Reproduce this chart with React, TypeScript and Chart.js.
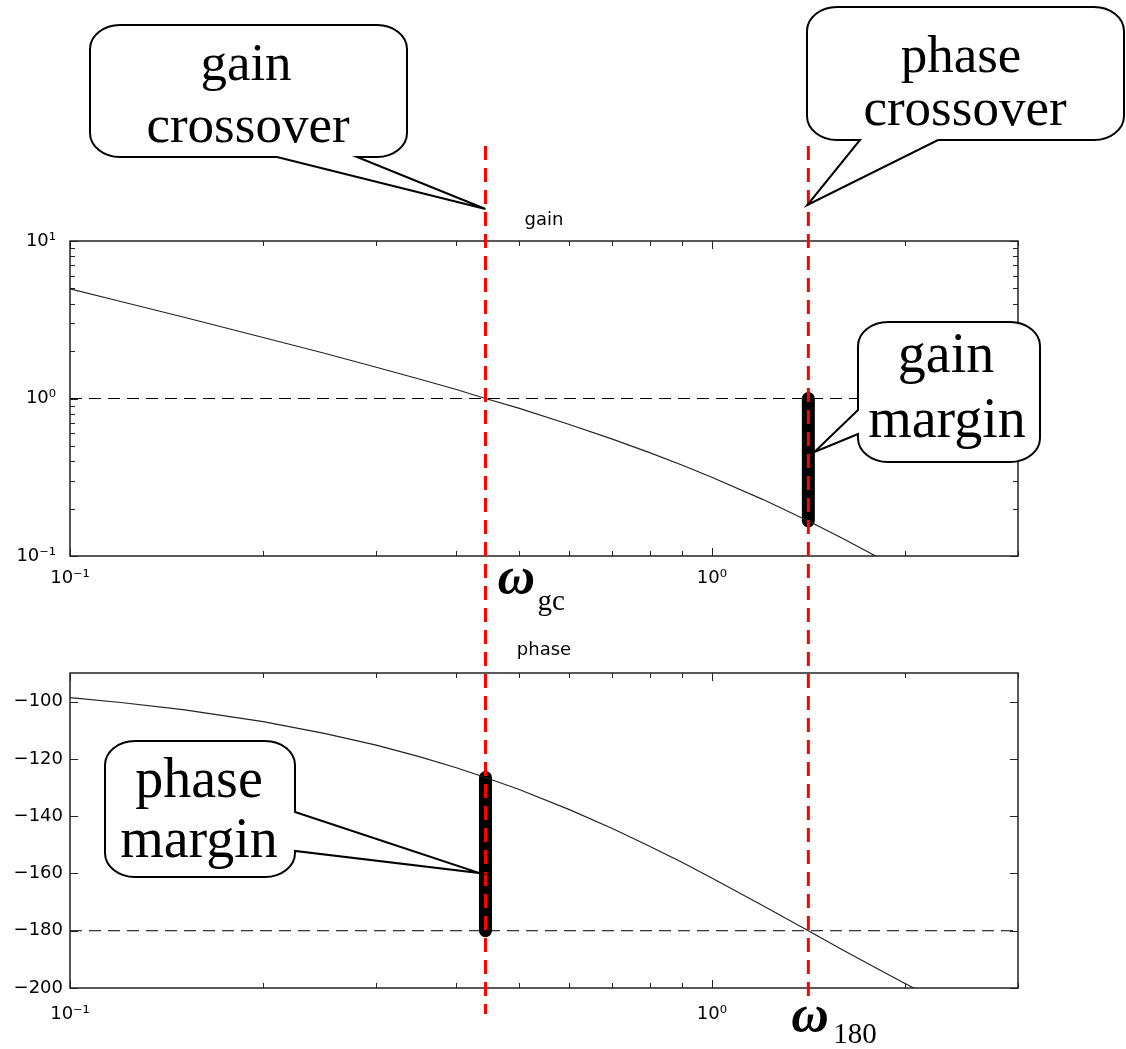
import React, { useEffect, useRef } from 'react';
import { Chart, registerables } from 'chart.js';

Chart.register(...registerables);

// ---------------- data ----------------
const freq = [0.1, 0.12, 0.15, 0.2, 0.25, 0.3, 0.35, 0.4, 0.444, 0.5, 0.6, 0.7, 0.8, 0.9, 1.0, 1.2, 1.414, 1.6, 1.8, 2.0, 2.2, 2.5, 3.0];
const gainMag = [4.97, 4.13, 3.29, 2.44, 1.93, 1.58, 1.33, 1.14, 1.0, 0.868, 0.684, 0.552, 0.453, 0.377, 0.316, 0.229, 0.167, 0.129, 0.1, 0.079, 0.063, 0.046, 0.029];
const phaseDeg = [-98.6, -100.3, -102.8, -107.0, -111.2, -115.2, -119.2, -123.1, -126.5, -130.6, -137.7, -144.3, -150.5, -156.2, -161.6, -171.2, -180.0, -186.7, -192.9, -198.4, -203.3, -209.5, -217.9];

const wGc = 0.444; // gain crossover frequency
const w180 = 1.414; // phase crossover frequency
const gainMarginFreq = [1.414, 1.414];
const gainMarginMag = [1.0, 0.167];
const phaseMarginFreq = [0.444, 0.444];
const phaseMarginDeg = [-126.5, -180];
const unityGainLine = [1, 1];
const phase180Line = [-180, -180];
const refLineFreq = [0.1, 3];

const xRange = [0.1, 3];
const gainRange = [0.1, 10];
const phaseRange = [-200, -90];

const xTickValues = [0.1, 1];
const xTickLabels = ['10\u207B\u00B9', '10\u2070'];
const xMinorTicks = [0.2, 0.3, 0.4, 0.5, 0.6, 0.7, 0.8, 0.9, 2, 3];
const gainTickValues = [0.1, 1, 10];
const gainTickLabels = ['10\u207B\u00B9', '10\u2070', '10\u00B9'];
const gainMinorTicks = [0.2, 0.3, 0.4, 0.5, 0.6, 0.7, 0.8, 0.9, 2, 3, 4, 5, 6, 7, 8, 9];
const phaseTickValues = [-200, -180, -160, -140, -120, -100];
const phaseTickLabels = ['\u2212200', '\u2212180', '\u2212160', '\u2212140', '\u2212120', '\u2212100'];

// ---------------- layout ----------------
const W = 1126;
const TOP_H = 630;
const BOT_H = 1049 - TOP_H;
const TICK_FONT = { family: 'DejaVu Sans', size: 18 };
const SERIF = '"Liberation Serif", "Times New Roman", serif';

const pts = (xs: number[], ys: number[]) => xs.map((x, i) => ({ x, y: ys[i] }));

function drawFrame(chart: any, xMajor: number[], xMinor: number[], yMajor: number[], yMinor: number[]) {
  const { ctx, chartArea } = chart;
  const { left, right, top, bottom } = chartArea;
  const xs = chart.scales.x;
  const ys = chart.scales.y;
  ctx.save();
  ctx.strokeStyle = '#222';
  ctx.lineWidth = 1;
  ctx.setLineDash([]);
  ctx.beginPath();
  const xt = (vals: number[], len: number) => {
    vals.forEach((v) => {
      const p = Math.round(xs.getPixelForValue(v)) + 0.5;
      ctx.moveTo(p, bottom);
      ctx.lineTo(p, bottom - len);
      ctx.moveTo(p, top);
      ctx.lineTo(p, top + len);
    });
  };
  const yt = (vals: number[], len: number) => {
    vals.forEach((v) => {
      const p = Math.round(ys.getPixelForValue(v)) + 0.5;
      ctx.moveTo(left, p);
      ctx.lineTo(left + len, p);
      ctx.moveTo(right, p);
      ctx.lineTo(right - len, p);
    });
  };
  xt(xMajor, 8);
  xt(xMinor, 5);
  yt(yMajor, 8);
  yt(yMinor, 5);
  ctx.stroke();
  ctx.lineWidth = 1.5;
  ctx.strokeRect(left, top, right - left, bottom - top);
  ctx.restore();
}

function drawRedLine(ctx: any, px: number, y0: number, y1: number, offset: number) {
  ctx.save();
  ctx.strokeStyle = '#ff0000';
  ctx.lineWidth = 3;
  ctx.setLineDash([14, 8]);
  ctx.lineDashOffset = offset;
  ctx.beginPath();
  ctx.moveTo(px, y0);
  ctx.lineTo(px, y1);
  ctx.stroke();
  ctx.restore();
}

type Balloon = {
  x0: number; y0: number; x1: number; y1: number;
  side: 'bottom' | 'left' | 'right';
  a: number; b: number; tip: [number, number];
  size: number;
  lines: { t: string; x: number; y: number }[];
};

function drawBalloon(ctx: any, bl: Balloon, dy: number) {
  const rx = 30, ry = 24, k = 0.55;
  const x0 = bl.x0, x1 = bl.x1, y0 = bl.y0 - dy, y1 = bl.y1 - dy;
  const a = bl.side === 'bottom' ? bl.a : bl.a - dy;
  const b = bl.side === 'bottom' ? bl.b : bl.b - dy;
  const tx = bl.tip[0], ty = bl.tip[1] - dy;
  ctx.save();
  ctx.setLineDash([]);
  ctx.beginPath();
  ctx.moveTo(x0 + rx, y0);
  ctx.lineTo(x1 - rx, y0);
  ctx.bezierCurveTo(x1 - rx + rx * k, y0, x1, y0 + ry - ry * k, x1, y0 + ry);
  if (bl.side === 'right') {
    ctx.lineTo(x1, a);
    ctx.lineTo(tx, ty);
    ctx.lineTo(x1, b);
  }
  ctx.lineTo(x1, y1 - ry);
  ctx.bezierCurveTo(x1, y1 - ry + ry * k, x1 - rx + rx * k, y1, x1 - rx, y1);
  if (bl.side === 'bottom') {
    ctx.lineTo(b, y1);
    ctx.lineTo(tx, ty);
    ctx.lineTo(a, y1);
  }
  ctx.lineTo(x0 + rx, y1);
  ctx.bezierCurveTo(x0 + rx - rx * k, y1, x0, y1 - ry + ry * k, x0, y1 - ry);
  if (bl.side === 'left') {
    ctx.lineTo(x0, b);
    ctx.lineTo(tx, ty);
    ctx.lineTo(x0, a);
  }
  ctx.lineTo(x0, y0 + ry);
  ctx.bezierCurveTo(x0, y0 + ry - ry * k, x0 + rx - rx * k, y0, x0 + rx, y0);
  ctx.closePath();
  ctx.fillStyle = '#ffffff';
  ctx.fill();
  ctx.strokeStyle = '#000';
  ctx.lineWidth = 2;
  ctx.lineJoin = 'miter';
  ctx.stroke();
  ctx.fillStyle = '#000';
  ctx.font = `${bl.size}px ${SERIF}`;
  ctx.textAlign = 'center';
  ctx.textBaseline = 'alphabetic';
  bl.lines.forEach((l) => ctx.fillText(l.t, l.x, l.y - dy));
  ctx.restore();
}

function drawOmega(ctx: any, x: number, y: number, sub: string, subDx: number, subDy: number) {
  ctx.save();
  ctx.fillStyle = '#000';
  ctx.textAlign = 'left';
  ctx.textBaseline = 'alphabetic';
  ctx.font = `italic bold 52px ${SERIF}`;
  ctx.fillText('\u03C9', x, y);
  ctx.font = `29px ${SERIF}`;
  ctx.fillText(sub, x + subDx, y + subDy);
  ctx.restore();
}

function drawTitle(chart: any, text: string, y: number) {
  const { ctx, chartArea } = chart;
  ctx.save();
  ctx.fillStyle = '#000';
  ctx.font = '18px "DejaVu Sans"';
  ctx.textAlign = 'center';
  ctx.textBaseline = 'alphabetic';
  ctx.fillText(text, (chartArea.left + chartArea.right) / 2, y);
  ctx.restore();
}

function xScale(axisHeight: number, padding: number) {
  return {
    type: 'logarithmic',
    min: xRange[0],
    max: xRange[1],
    afterBuildTicks: (s: any) => {
      s.ticks = xTickValues.map((v) => ({ value: v }));
    },
    afterFit: (s: any) => {
      s.height = axisHeight;
    },
    ticks: {
      callback: (v: number) => xTickLabels[xTickValues.indexOf(v)] ?? '',
      autoSkip: false,
      maxRotation: 0,
      minRotation: 0,
      padding,
      font: TICK_FONT,
      color: '#000',
    },
    grid: { display: false, drawTicks: false },
    border: { display: false },
  };
}

const topDecor = {
  id: 'topDecor',
  afterDatasetsDraw(chart: any) {
    drawFrame(chart, xTickValues, xMinorTicks, gainTickValues, gainMinorTicks);
    const xs = chart.scales.x;
    drawRedLine(chart.ctx, xs.getPixelForValue(wGc), 146, TOP_H, 0);
    drawRedLine(chart.ctx, xs.getPixelForValue(w180), 146, TOP_H, 0);
  },
  afterDraw(chart: any) {
    const ctx = chart.ctx;
    const xs = chart.scales.x;
    const pGc = xs.getPixelForValue(wGc);
    const p180 = xs.getPixelForValue(w180);
    drawTitle(chart, 'gain', 225);
    drawBalloon(ctx, {
      x0: 90, y0: 25, x1: 407, y1: 157, side: 'bottom', a: 277, b: 357, tip: [pGc, 209], size: 53,
      lines: [{ t: 'gain', x: 246, y: 80 }, { t: 'crossover', x: 248, y: 142 }],
    }, 0);
    drawBalloon(ctx, {
      x0: 807, y0: 7, x1: 1124, y1: 140, side: 'bottom', a: 860, b: 938, tip: [p180 - 1, 205], size: 53,
      lines: [{ t: 'phase', x: 961, y: 72 }, { t: 'crossover', x: 965, y: 125 }],
    }, 0);
    drawBalloon(ctx, {
      x0: 858, y0: 322, x1: 1040, y1: 462, side: 'left', a: 410, b: 434, tip: [p180 + 6, 452], size: 56,
      lines: [{ t: 'gain', x: 946, y: 372 }, { t: 'margin', x: 947, y: 437 }],
    }, 0);
    drawOmega(ctx, pGc + 12, 593, 'gc', 40, 17);
  },
};

const bottomDecor = {
  id: 'bottomDecor',
  afterDatasetsDraw(chart: any) {
    drawFrame(chart, xTickValues, xMinorTicks, phaseTickValues, []);
    const xs = chart.scales.x;
    drawRedLine(chart.ctx, xs.getPixelForValue(wGc), 0, 1014 - TOP_H, TOP_H - 146);
    drawRedLine(chart.ctx, xs.getPixelForValue(w180), 0, 1000 - TOP_H, TOP_H - 146);
  },
  afterDraw(chart: any) {
    const ctx = chart.ctx;
    const xs = chart.scales.x;
    const pGc = xs.getPixelForValue(wGc);
    drawTitle(chart, 'phase', 655 - TOP_H);
    const p180 = xs.getPixelForValue(w180);
    drawBalloon(ctx, {
      x0: 105, y0: 741, x1: 295, y1: 877, side: 'right', a: 812, b: 851, tip: [pGc - 6, 873], size: 56,
      lines: [{ t: 'phase', x: 199, y: 797 }, { t: 'margin', x: 199, y: 857 }],
    }, TOP_H);
    drawOmega(ctx, p180 - 17, 1031 - TOP_H, '180', 42, 12);
  },
};

export default function App() {
  const topRef = useRef<HTMLCanvasElement>(null);
  const botRef = useRef<HTMLCanvasElement>(null);

  useEffect(() => {
    const common = {
      animation: false,
      responsive: false,
      maintainAspectRatio: false,
      devicePixelRatio: 1,
      events: [],
      plugins: { legend: { display: false }, tooltip: { enabled: false }, title: { display: false } },
    };

    const top = new Chart(topRef.current as HTMLCanvasElement, {
      type: 'line',
      data: {
        datasets: [
          {
            data: pts(refLineFreq, unityGainLine),
            borderColor: '#000', borderWidth: 1, borderDash: [12, 7], pointRadius: 0,
          },
          {
            data: pts(freq, gainMag),
            borderColor: '#222', borderWidth: 1.2, pointRadius: 0, tension: 0,
          },
          {
            data: pts(gainMarginFreq, gainMarginMag),
            borderColor: '#000', borderWidth: 13, borderCapStyle: 'round', pointRadius: 0,
          },
        ],
      },
      options: {
        ...common,
        layout: { padding: { left: 0, right: W - 1018, top: 241, bottom: 0 } },
        scales: {
          x: xScale(TOP_H - 556, 12),
          y: {
            type: 'logarithmic',
            min: gainRange[0],
            max: gainRange[1],
            afterBuildTicks: (s: any) => {
              s.ticks = gainTickValues.map((v) => ({ value: v }));
            },
            afterFit: (s: any) => {
              s.width = 70;
            },
            ticks: {
              callback: (v: number) => gainTickLabels[gainTickValues.indexOf(v)] ?? '',
              padding: 14,
              font: TICK_FONT,
              color: '#000',
            },
            grid: { display: false, drawTicks: false },
            border: { display: false },
          },
        },
      } as any,
      plugins: [topDecor],
    } as any);

    const bottom = new Chart(botRef.current as HTMLCanvasElement, {
      type: 'line',
      data: {
        datasets: [
          {
            data: pts(refLineFreq, phase180Line),
            borderColor: '#000', borderWidth: 1, borderDash: [12, 7], pointRadius: 0,
          },
          {
            data: pts(freq, phaseDeg),
            borderColor: '#222', borderWidth: 1.2, pointRadius: 0, tension: 0,
          },
          {
            data: pts(phaseMarginFreq, phaseMarginDeg),
            borderColor: '#000', borderWidth: 13, borderCapStyle: 'round', pointRadius: 0,
          },
        ],
      },
      options: {
        ...common,
        layout: { padding: { left: 0, right: W - 1018, top: 673 - TOP_H, bottom: 0 } },
        scales: {
          x: xScale(1049 - 988, 16),
          y: {
            type: 'linear',
            min: phaseRange[0],
            max: phaseRange[1],
            afterBuildTicks: (s: any) => {
              s.ticks = phaseTickValues.map((v) => ({ value: v }));
            },
            afterFit: (s: any) => {
              s.width = 70;
            },
            ticks: {
              callback: (v: number) => phaseTickLabels[phaseTickValues.indexOf(v)] ?? '',
              padding: 7,
              font: TICK_FONT,
              color: '#000',
            },
            grid: { display: false, drawTicks: false },
            border: { display: false },
          },
        },
      } as any,
      plugins: [bottomDecor],
    } as any);

    return () => {
      top.destroy();
      bottom.destroy();
    };
  }, []);

  return (
    <div style={{ position: 'absolute', left: 0, top: 0, width: W, height: 1049, overflow: 'hidden', background: '#fff' }}>
      <canvas
        ref={topRef}
        width={W}
        height={TOP_H}
        style={{ position: 'absolute', left: 0, top: 0, width: W, height: TOP_H }}
      />
      <canvas
        ref={botRef}
        width={W}
        height={BOT_H}
        style={{ position: 'absolute', left: 0, top: TOP_H, width: W, height: BOT_H }}
      />
    </div>
  );
}
